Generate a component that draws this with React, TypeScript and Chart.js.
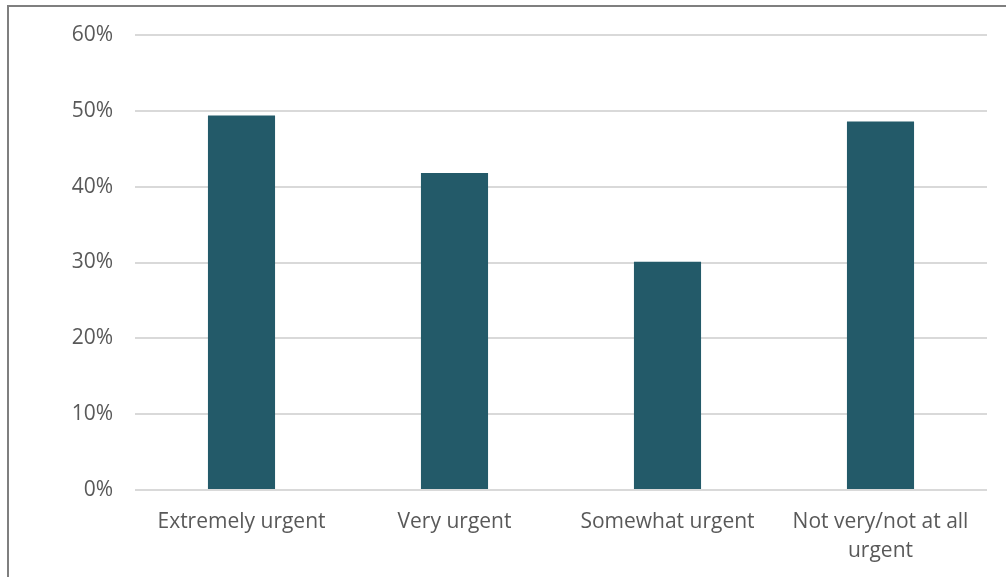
import React, { useEffect, useRef } from "react";
import { Chart, registerables } from "chart.js";

Chart.register(...registerables);

const categories: (string | string[])[] = [
  "Extremely urgent",
  "Very urgent",
  "Somewhat urgent",
  ["Not very/not at all", "urgent"],
];
const values: number[] = [49.4, 41.8, 30.1, 48.6];
const yTicks: number[] = [0, 10, 20, 30, 40, 50, 60];

const FONT = "'Open Sans', 'Noto Sans', sans-serif";

export default function App() {
  const ref = useRef<HTMLCanvasElement | null>(null);

  useEffect(() => {
    document.body.style.margin = "0";
    const ctx = ref.current!;
    const chart = new Chart(ctx, {
      type: "bar",
      data: {
        labels: categories,
        datasets: [
          {
            data: values,
            backgroundColor: "#235a69",
            borderWidth: 0,
            barPercentage: 0.63,
            categoryPercentage: 0.5,
          },
        ],
      },
      options: {
        animation: false,
        responsive: false,
        maintainAspectRatio: false,
        layout: { padding: { top: 35, right: 19, left: 0, bottom: 0 } },
        plugins: {
          legend: { display: false },
          tooltip: { enabled: false },
        },
        scales: {
          x: {
            grid: { display: false, drawTicks: false },
            border: { display: false },
            ticks: {
              color: "#595959",
              font: { family: FONT, size: 21, lineHeight: 1.35 },
              padding: 18,
              maxRotation: 0,
              autoSkip: false,
            },
            afterFit: (axis: any) => {
              axis.height = 87;
            },
          },
          y: {
            min: 0,
            max: 60,
            afterBuildTicks: (axis: any) => {
              axis.ticks = yTicks.map((v) => ({ value: v }));
            },
            grid: { color: "#d9d9d9", lineWidth: 2, drawTicks: false },
            border: { display: false },
            ticks: {
              color: "#595959",
              font: { family: FONT, size: 21 },
              padding: 22,
              callback: (v: any) => `${v}%`,
            },
            afterFit: (axis: any) => {
              axis.width = 135;
            },
          },
        },
      },
    });
    return () => chart.destroy();
  }, []);

  return (
    <div style={{ position: "relative", width: 1006, height: 577, overflow: "hidden", background: "#fff" }}>
      <canvas ref={ref} width={1006} height={577} style={{ position: "absolute", left: 0, top: 0 }} />
      <div
        style={{
          position: "absolute",
          left: 7,
          top: 5,
          width: 1100,
          height: 700,
          borderLeft: "2px solid #7f7f7f",
          borderTop: "2px solid #7f7f7f",
          pointerEvents: "none",
        }}
      />
    </div>
  );
}
